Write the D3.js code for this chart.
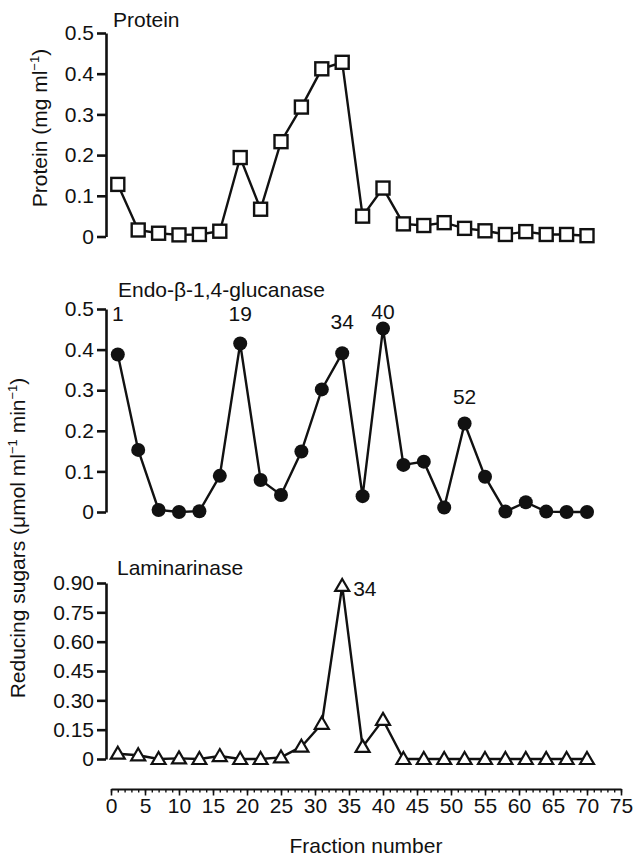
<!DOCTYPE html>
<html>
<head>
<meta charset="utf-8">
<script src="https://cdnjs.cloudflare.com/ajax/libs/d3/7.8.5/d3.min.js"></script>
<style>
  body { margin: 0; background: #fff; }
  text { font-family: "Liberation Sans", Arial, Helvetica, sans-serif; fill: #111; }
</style>
</head>
<body>
<div id="chart"></div>
<script>
// 每个组分号（每隔3个组分取样）
var fractions = [1, 4, 7, 10, 13, 16, 19, 22, 25, 28, 31, 34, 37, 40, 43, 46, 49, 52, 55, 58, 61, 64, 67, 70];
// 蛋白质 (mg ml-1)
var protein = [0.128, 0.016, 0.008, 0.004, 0.005, 0.013, 0.194, 0.067, 0.233, 0.318, 0.412, 0.428,
  0.050, 0.119, 0.031, 0.027, 0.034, 0.020, 0.014, 0.005, 0.012, 0.005, 0.005, 0.002];
// 内切-β-1,4-葡聚糖酶
var glucanase = [0.388, 0.153, 0.005, 0.000, 0.002, 0.089, 0.415, 0.079, 0.042, 0.149, 0.302, 0.391,
  0.039, 0.452, 0.116, 0.124, 0.011, 0.218, 0.087, 0.001, 0.024, 0.001, 0.000, 0.000];
// 昆布多糖酶
var laminarinase = [0.027, 0.019, 0.000, 0.003, 0.000, 0.015, 0.000, 0.000, 0.008, 0.063, 0.180, 0.885,
  0.062, 0.200, 0.000, 0.000, 0.000, 0.000, 0.000, 0.000, 0.000, 0.000, 0.000, 0.000];
// 峰值标注（组分号和标注所在的数值高度）
var glucPeaks = [1, 19, 34, 40, 52];
var glucPeakLevel = [0.49, 0.49, 0.468, 0.493, 0.284];
var lamPeaks = [34];
// 刻度
var proteinTicks = [0, 0.1, 0.2, 0.3, 0.4, 0.5];
var glucTicks = [0, 0.1, 0.2, 0.3, 0.4, 0.5];
var lamTicks = [0, 0.15, 0.30, 0.45, 0.60, 0.75, 0.90];
var xMajor = d3.range(0, 76, 5);
var xMinor = d3.range(0, 76, 1);

var width = 633, height = 863;
var axisX = 106;  // 纵轴位置
var fs = "21px";  // 字号

var svg = d3.select("#chart")
  .append("svg")
  .attr("width", width)
  .attr("height", height);

var x = d3.scaleLinear().domain([0, 75]).range([111, 621]);

var yProt = d3.scaleLinear().domain([0, 0.5]).range([236.5, 33]);
var yGluc = d3.scaleLinear().domain([0, 0.5]).range([512, 309]);
var yLam = d3.scaleLinear().domain([0, 0.9]).range([759, 583]);

var fmt1 = function (d) { return d === 0 ? "0" : d3.format(".1f")(d); };
var fmt2 = function (d) { return d === 0 ? "0" : d3.format(".2f")(d); };

function yAxis(scale, ticks, fmt) {  // 画纵轴
  var g = svg.append("g")
    .attr("transform", "translate(" + axisX + ",0)")
    .call(d3.axisLeft(scale).tickValues(ticks).tickFormat(fmt).tickSize(9).tickSizeOuter(0).tickPadding(3));
  g.select(".domain").attr("stroke", "#111").attr("stroke-width", 2.6);
  g.selectAll(".tick line").attr("stroke", "#111").attr("stroke-width", 2.6);
  g.selectAll(".tick text").style("font-size", fs).attr("fill", "#111");
  return g;
}

yAxis(yProt, proteinTicks, fmt1);
yAxis(yGluc, glucTicks, fmt1);
yAxis(yLam, lamTicks, fmt2);

function series(values, scale) {  // 数据折线
  var pts = fractions.map(function (f, i) { return [x(f), scale(values[i])]; });
  svg.append("path")
    .datum(pts)
    .attr("d", d3.line())
    .attr("fill", "none")
    .attr("stroke", "#111")
    .attr("stroke-width", 2.4)
    .attr("stroke-linejoin", "miter");
  return pts;
}

var pProt = series(protein, yProt);
var pGluc = series(glucanase, yGluc);
var pLam = series(laminarinase, yLam);

// 方块标记
svg.selectAll(".sq")
  .data(pProt)
  .enter()
  .append("rect")
  .attr("x", function (d) { return d[0] - 6.5; })
  .attr("y", function (d) { return d[1] - 6.5; })
  .attr("width", 13)
  .attr("height", 13)
  .attr("fill", "#fff")
  .attr("stroke", "#111")
  .attr("stroke-width", 2.4);

// 圆点标记
svg.selectAll(".dot")
  .data(pGluc)
  .enter()
  .append("circle")
  .attr("cx", function (d) { return d[0]; })
  .attr("cy", function (d) { return d[1]; })
  .attr("r", 7)
  .attr("fill", "#111");

// 三角标记
svg.selectAll(".tri")
  .data(pLam)
  .enter()
  .append("path")
  .attr("d", "M0,-7L7,5L-7,5Z")
  .attr("transform", function (d) { return "translate(" + d[0] + "," + d[1] + ")"; })
  .attr("fill", "#fff")
  .attr("stroke", "#111")
  .attr("stroke-width", 2.2)
  .attr("stroke-linejoin", "miter");

// 峰值编号
svg.selectAll(".peak")
  .data(glucPeaks)
  .enter()
  .append("text")
  .attr("x", function (d) { return x(d); })
  .attr("y", function (d, i) { return yGluc(glucPeakLevel[i]) + 7.5; })
  .attr("text-anchor", "middle")
  .style("font-size", fs)
  .text(function (d) { return d; });

svg.selectAll(".lpeak")
  .data(lamPeaks)
  .enter()
  .append("text")
  .attr("x", function (d) { return x(d) + 11; })
  .attr("y", function (d) { return yLam(laminarinase[fractions.indexOf(d)]) + 10; })
  .style("font-size", fs)
  .text(function (d) { return d; });

// 面板标题
svg.append("text").attr("x", 113).attr("y", 27).style("font-size", fs).text("Protein");
svg.append("text").attr("x", 118).attr("y", 297).style("font-size", fs).text("Endo-β-1,4-glucanase");
svg.append("text").attr("x", 117).attr("y", 575).style("font-size", fs).text("Laminarinase");

// 纵轴标题
var t1 = svg.append("text")
  .attr("transform", "translate(47,128)rotate(-90)")
  .attr("text-anchor", "middle")
  .style("font-size", fs);
t1.append("tspan").text("Protein (mg ml");
t1.append("tspan").attr("dy", -8).style("font-size", "13px").text("−1");
t1.append("tspan").attr("dy", 8).text(")");

var t2 = svg.append("text")
  .attr("transform", "translate(25,538)rotate(-90)")
  .attr("text-anchor", "middle")
  .style("font-size", fs);
t2.append("tspan").text("Reducing sugars (μmol ml");
t2.append("tspan").attr("dy", -8).style("font-size", "13px").text("−1");
t2.append("tspan").attr("dy", 8).text(" min");
t2.append("tspan").attr("dy", -8).style("font-size", "13px").text("−1");
t2.append("tspan").attr("dy", 8).text(")");

// 横轴（主刻度和次刻度）
var xg = svg.append("g").attr("transform", "translate(0,789)");
xg.call(d3.axisBottom(x).tickValues(xMinor).tickSize(3.5).tickSizeOuter(0).tickFormat(""));
xg.select(".domain").attr("stroke", "#111").attr("stroke-width", 2);
xg.selectAll(".tick line").attr("stroke", "#111").attr("stroke-width", 1.4);

var xg2 = svg.append("g").attr("transform", "translate(0,789)");
xg2.call(d3.axisBottom(x).tickValues(xMajor).tickSize(6.5).tickSizeOuter(0).tickPadding(3));
xg2.select(".domain").remove();
xg2.selectAll(".tick line").attr("stroke", "#111").attr("stroke-width", 1.6);
xg2.selectAll(".tick text").style("font-size", fs).attr("fill", "#111");

svg.append("text")
  .attr("x", x(37.5))
  .attr("y", 853)
  .attr("text-anchor", "middle")
  .style("font-size", fs)
  .text("Fraction number");
</script>
</body>
</html>
